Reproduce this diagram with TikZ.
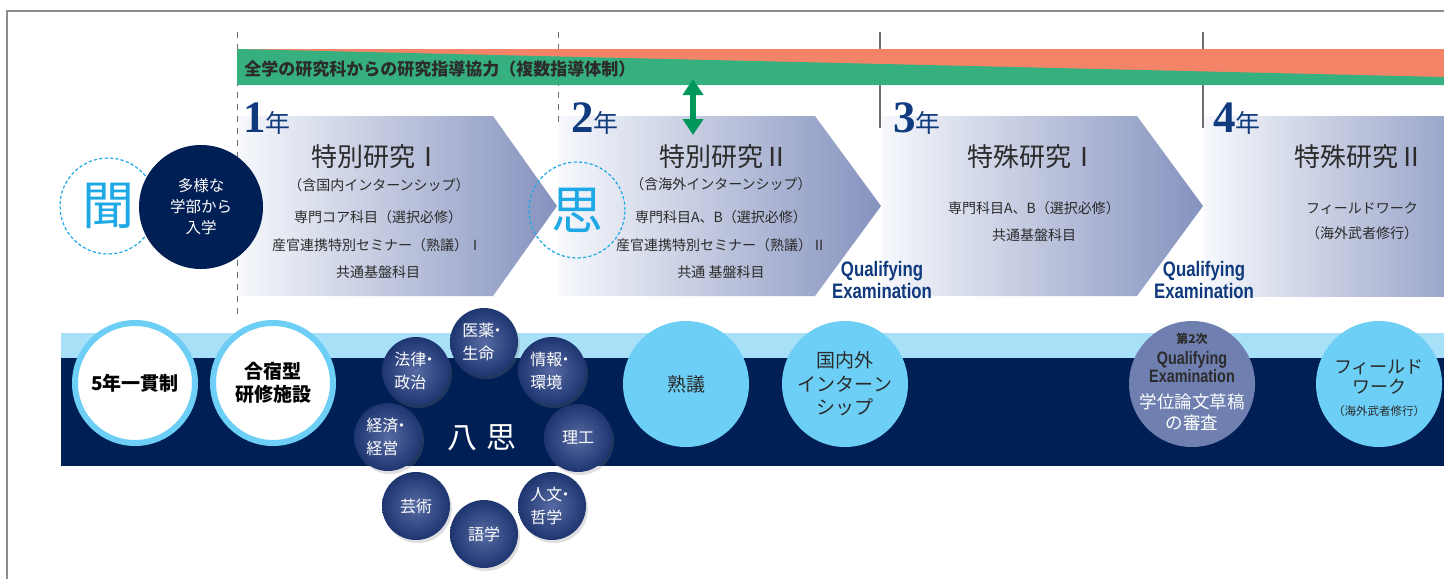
\documentclass[tikz,border=0pt]{standalone}
\usepackage{fontspec}
\usepackage{graphicx}
\usetikzlibrary{arrows.meta,shadows}
\newfontfamily\jp{Noto Sans CJK JP}
\newfontfamily\latn{Liberation Sans}
\newfontfamily\numf{Liberation Serif}
\definecolor{bandgreen}{HTML}{36B07E}
\definecolor{bandorange}{HTML}{F48468}
\definecolor{arrowgreen}{HTML}{00985A}
\definecolor{navy}{HTML}{001F54}
\definecolor{lightband}{HTML}{A8E0F8}
\definecolor{sky}{HTML}{6DCFF6}
\definecolor{kiku}{HTML}{1EA8E6}
\definecolor{yearblue}{HTML}{0F3A7D}
\definecolor{arrowL}{HTML}{F6F8FC}
\definecolor{arrowR}{HTML}{8592BE}
\definecolor{examball}{HTML}{6F80B0}
\definecolor{ballin}{HTML}{566BA3}
\definecolor{ballout}{HTML}{1F3570}
\definecolor{txt}{HTML}{2B2B2B}
\definecolor{framegray}{HTML}{8C8C8C}
\definecolor{linegray}{HTML}{6E6E6E}
% chevron of one study year: left x, shoulder x, tip x
\newcommand{\stagearrow}[3]{
  \shade[left color=arrowL,right color=arrowR]
    (#1,116) -- (#2,116) -- (#3,206) -- (#2,296) -- (#1,296) -- cycle;
}
\newcommand{\yearlabel}[3]{
  \node[anchor=base west,text=yearblue] (#1) at (#2,132)
    {{\numf\bfseries\fontsize{22.5}{22.5}\selectfont #3}{\fontsize{12.5}{12.5}\selectfont 年}};
}
\newcommand{\qual}[1]{\scalebox{0.8}[1]{#1}}
\newcommand{\dotsep}{\kern-0.3em・}

\begin{document}
\begin{tikzpicture}[
  x=0.5pt,y=-0.5pt,
  every node/.style={inner sep=0pt,font=\jp,text=txt},
  stagetitle/.style={font=\jp\fontsize{13}{13}\selectfont},
  stageline/.style={font=\jp\fontsize{7}{7}\selectfont},
  qualtext/.style={align=center,text=yearblue,font=\latn\bfseries\fontsize{10.5}{11}\selectfont},
  kanji/.style={circle,draw=kiku,dashed,dash pattern=on 1.6pt off 1.1pt,line width=0.6pt,
    minimum size=48pt,text=kiku,font=\jp\fontsize{26}{26}\selectfont},
  whitering/.style={circle,minimum size=60pt,draw=sky,line width=3pt,fill=white,align=center,
    text=black,font=\jp\bfseries\fontsize{9.5}{11.5}\selectfont},
  skyball/.style={circle,minimum size=63pt,fill=sky,align=center,
    font=\jp\fontsize{9.5}{11.75}\selectfont},
  fieldball/.style={circle,minimum size=34pt,inner color=ballin,outer color=ballout,
    drop shadow={opacity=0.25,shadow xshift=1pt,shadow yshift=-1.5pt},
    align=left,text=white,font=\jp\fontsize{8}{11.5}\selectfont},
  ]
  \useasboundingbox (0,0) rectangle (1444,579);
  \draw[framegray,line width=1pt] (1444,11) -- (7,11) -- (7,579);

  % year separators
  \draw[linegray,dashed,line width=0.5pt] (237,32) -- (237,315);
  \draw[linegray,dashed,line width=0.5pt] (558,32) -- (558,128);
  \draw[linegray,line width=0.6pt] (880,32) -- (880,128);
  \draw[linegray,line width=0.6pt] (1203,32) -- (1203,128);

  % supervision band
  \fill[bandorange] (237,49) rectangle (1444,85);
  \fill[bandgreen] (237,49) -- (1444,77) -- (1444,85) -- (237,85) -- cycle;
  \node[anchor=west,font=\jp\bfseries\fontsize{8.5}{8.5}\selectfont] (band) at (244,69)
    {全学の研究科からの研究指導協力（複数指導体制）};

  \shade[left color=arrowL,right color=arrowR!80!arrowL] (1204,116) rectangle (1444,296);
  \stagearrow{882}{1137}{1203}
  \stagearrow{559}{815}{881}
  \stagearrow{238}{493}{557}

  \yearlabel{y1}{243}{1}
  \yearlabel{y2}{571}{2}
  \yearlabel{y3}{893}{3}
  \yearlabel{y4}{1213}{4}

  \coordinate (gtop) at (693,79);
  \coordinate (gbot) at (693,135);
  \draw[arrowgreen,line width=3pt,{Triangle[width=10pt,length=8pt]}-{Triangle[width=10pt,length=8pt]}]
    (gtop) -- (gbot);

  % entrance
  \node[kanji] (kiku) at (108,206) {聞};
  \node[circle,fill=navy,minimum size=62pt,align=center,text=white,
    font=\jp\fontsize{7.75}{10.5}\selectfont] (enter) at (201,207) {多様な\\学部から\\入学};
  \node[kanji] (shi) at (577,210) {思};

  % year 1
  \node[stagetitle] (t1) at (376,157) {特別研究Ⅰ};
  \node[stageline] (t1s) at (379,185) {（含国内インターンシップ）};
  \node[stageline] (t1a) at (378,217) {専門コア科目（選択必修）};
  \node[stageline] (t1b) at (377,245) {産官連携特別セミナー（熟議）Ⅰ};
  \node[stageline] (t1c) at (378,272) {共通基盤科目};
  % year 2
  \node[stagetitle] (t2) at (724,157) {特別研究Ⅱ};
  \node[stageline] (t2s) at (721,184) {（含海外インターンシップ）};
  \node[stageline] (t2a) at (721,217) {専門科目A、B（選択必修）};
  \node[stageline] (t2b) at (721,245) {産官連携特別セミナー（熟議）Ⅱ};
  \node[stageline] (t2c) at (721,272) {共通 基盤科目};
  % year 3
  \node[stagetitle] (t3) at (1032,157) {特殊研究Ⅰ};
  \node[stageline] (t3a) at (1034,208) {専門科目A、B（選択必修）};
  \node[stageline] (t3b) at (1034,235) {共通基盤科目};
  % year 4
  \node[stagetitle] (t4) at (1359,157) {特殊研究Ⅱ};
  \node[stageline] (t4a) at (1362,208) {フィールドワーク};
  \node[stageline] (t4b) at (1362,233) {（海外武者修行）};

  \node[qualtext] (qe1) at (882,280) {\qual{Qualifying}\\\qual{Examination}};
  \node[qualtext] (qe2) at (1204,280) {\qual{Qualifying}\\\qual{Examination}};

  % lower band
  \fill[lightband] (61,333) rectangle (1444,358);
  \fill[navy] (61,358) rectangle (1444,466);

  \node[whitering] (ikkan) at (135,383) {5年一貫制};
  \node[whitering] (gasshuku) at (273,383) {合宿型\\研修施設};

  \node[text=white,font=\jp\fontsize{15}{15}\selectfont] (hasshi) at (482,438) {八\hspace{0.3em}思};
  \node[fieldball] (iyaku) at (484,342) {医薬\dotsep\\生命};
  \node[fieldball] (houritsu) at (416,371) {法律\dotsep\\政治};
  \node[fieldball] (jouhou) at (552,371) {情報\dotsep\\環境};
  \node[fieldball] (keizai) at (388,437) {経済\dotsep\\経営};
  \node[fieldball] (riko) at (578,438) {理工};
  \node[fieldball] (geijutsu) at (416,506) {芸術};
  \node[fieldball] (gogaku) at (484,534) {語学};
  \node[fieldball] (jinbun) at (552,506) {人文\dotsep\\哲学};

  \node[skyball] (jukugi) at (686,384) {熟議};
  \node[skyball] (intern) at (845,384) {国内外\\インターン\\シップ};

  \node[circle,minimum size=63pt,fill=examball] (exam2) at (1192,384) {};
  \node[font=\jp\bfseries\fontsize{6}{6}\selectfont] (ex2a) at (1192,339) {第2次};
  \node[align=center,font=\latn\bfseries\fontsize{9}{9.25}\selectfont] (ex2b) at (1192,367)
    {\qual{Qualifying}\\\qual{Examination}};
  \node[align=center,text=white,font=\jp\fontsize{8.75}{10.5}\selectfont] (ex2c) at (1192,412)
    {学位論文草稿\\の審査};

  \node[skyball] (field) at (1379,384) {};
  \node[align=center,font=\jp\fontsize{9}{10}\selectfont] (fielda) at (1379,377) {フィールド\\ワーク};
  \node[font=\jp\fontsize{5.75}{5.75}\selectfont] (fieldb) at (1379,411) {（海外武者修行）};
\end{tikzpicture}
\end{document}
